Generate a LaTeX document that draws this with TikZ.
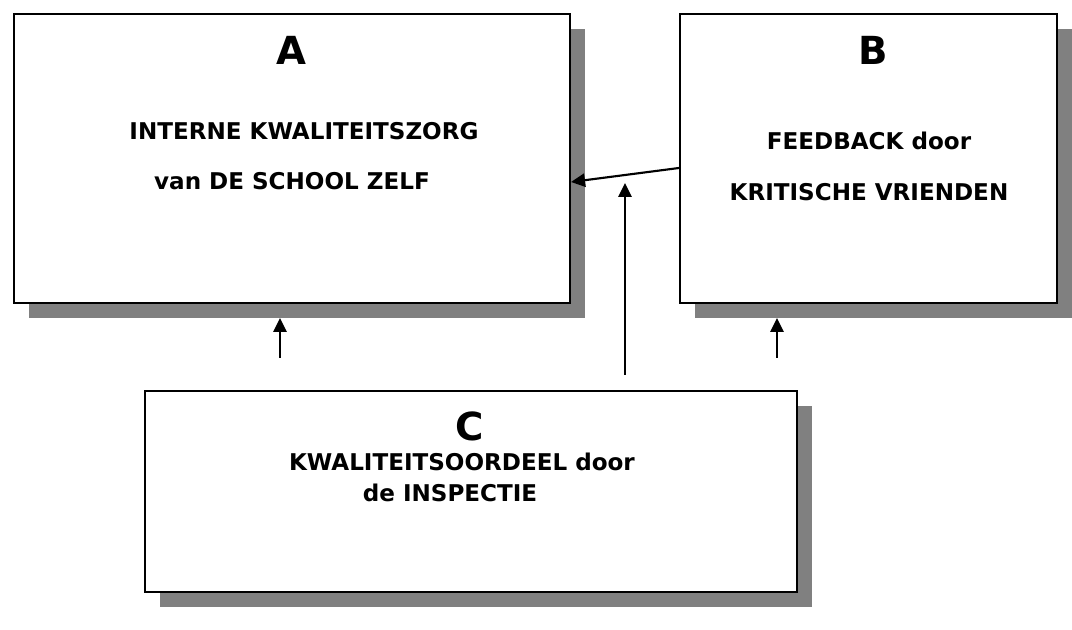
\documentclass[tikz,border=0pt]{standalone}
\usepackage{fontspec}
\setmainfont{DejaVu Sans}
\usetikzlibrary{arrows.meta,shadows}

\tikzset{
  vak/.style={draw=black, line width=1.6pt, fill=white, inner sep=0pt,
    copy shadow={shadow xshift=11pt, shadow yshift=-11pt, fill=gray, draw=none}},
  kop/.style={font=\bfseries\fontsize{29}{33}\selectfont},
  tekst/.style={font=\bfseries\fontsize{17.3}{20}\selectfont},
  pijl/.style={line width=1.6pt, -{Triangle[length=10.5pt,width=10pt]}}
}

\begin{document}
\begin{tikzpicture}[x=0.75pt,y=-0.75pt]
  \useasboundingbox (0,0) rectangle (1072,630);

  % de drie vakken
  \node[vak, minimum width=417pt, minimum height=216.75pt] (A) at (292,158.5) {};
  \node[vak, minimum width=282.75pt, minimum height=216.75pt] (B) at (868.5,158.5) {};
  \node[vak, minimum width=489pt, minimum height=150.75pt] (C) at (471,491.5) {};

  % teksten
  \node[kop] (kopA) at (291,50) {A};
  \node[tekst] (regelA1) at (304,131) {INTERNE KWALITEITSZORG};
  \node[tekst] (regelA2) at (292,181) {van DE SCHOOL ZELF};

  \node[kop] (kopB) at (873,50) {B};
  \node[tekst] (regelB1) at (869,141) {FEEDBACK door};
  \node[tekst] (regelB2) at (869,192) {KRITISCHE VRIENDEN};

  \node[kop] (kopC) at (470,426) {C};
  \node[tekst] (regelC1) at (462,462) {KWALITEITSOORDEEL door};
  \node[tekst] (regelC2) at (450,493) {de INSPECTIE};

  % pijlen
  \coordinate (vanB) at (B.west |- 0,168);
  \coordinate (naarA) at (A.east |- 0,182);
  \draw[pijl] (vanB) -- (naarA);

  \coordinate (c1) at (280,358);
  \coordinate (a1) at (280,318);
  \draw[pijl] (c1) -- (a1);

  \coordinate (c2) at (625,375);
  \coordinate (m2) at (625,183);
  \draw[pijl] (c2) -- (m2);

  \coordinate (c3) at (777,358);
  \coordinate (b3) at (777,318);
  \draw[pijl] (c3) -- (b3);
\end{tikzpicture}
\end{document}
